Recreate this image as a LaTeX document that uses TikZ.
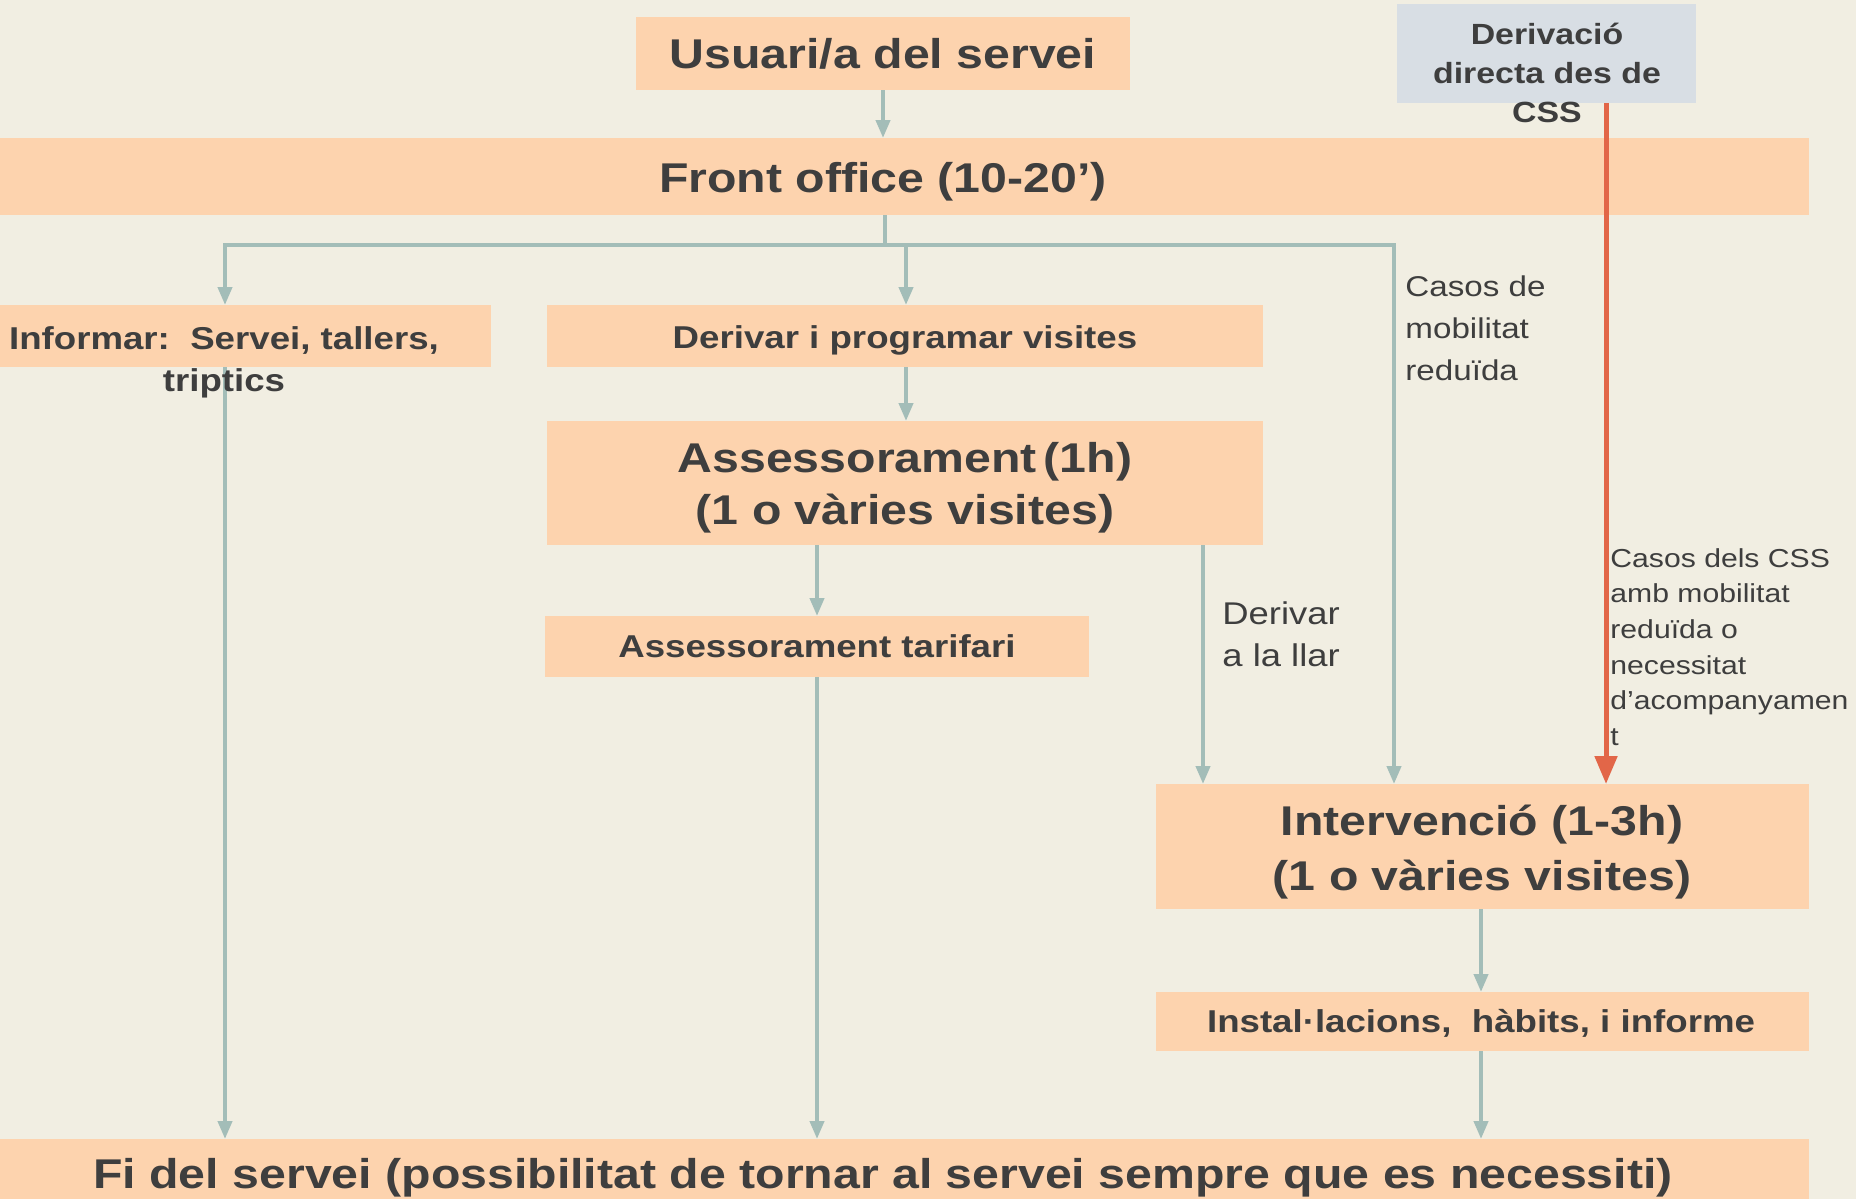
\documentclass[tikz,border=0pt]{standalone}
\usepackage{fontspec}
\setmainfont{Liberation Sans}[FakeStretch=1.16]
\usetikzlibrary{arrows.meta}
\pgfdeclarelayer{bgl}\pgfdeclarelayer{conl}
\pgfsetlayers{bgl,conl,main}
\definecolor{bgc}{RGB}{241,238,226}
\definecolor{boxc}{RGB}{253,211,174}
\definecolor{bluec}{RGB}{216,222,228}
\definecolor{connc}{RGB}{163,189,184}
\definecolor{redc}{RGB}{226,102,72}
\definecolor{txtc}{RGB}{62,62,62}
\begin{document}
\begin{tikzpicture}[x=0.5pt,y=-0.5pt,
  box/.style={fill=boxc,draw=none,inner sep=0pt,outer sep=0pt,text=txtc,align=center},
  txt/.style={text=txtc,inner sep=0pt,align=center},
  bigf/.style={font=\fontsize{20.8}{26}\selectfont\bfseries},
  medf/.style={font=\fontsize{15.8}{21}\selectfont\bfseries},
  conn/.style={draw=connc,line width=2pt,-{Triangle[width=7pt,length=9pt]}},
  plain/.style={draw=connc,line width=2pt},
  redconn/.style={draw=redc,line width=2.5pt,-{Triangle[width=11pt,length=14pt]}}]
\begin{pgfonlayer}{bgl}
\fill[bgc] (0,0) rectangle (1856,1199);
\end{pgfonlayer}
\useasboundingbox (0,0) rectangle (1856,1199);

% boxes
\node[box,bigf,minimum width=247pt,minimum height=36.5pt] (usuari) at (883,53.5) {Usuari/a del servei};
\node[box,minimum width=904.5pt,minimum height=38.5pt] (fobox) at (904.5,176.5) {};
\node[txt,bigf] (fotxt) at (883,182) {Front office (10-20’)};
\node[fill=bluec,inner sep=0pt,outer sep=0pt,minimum width=149.5pt,minimum height=49.5pt] (css) at (1546.5,53.5) {};
\node[txt,font=\fontsize{14.6}{19.5}\selectfont\bfseries] (csstxt) at (1547,73) {Derivació\\directa des de\\CSS};
\node[box,minimum width=245.5pt,minimum height=31pt] (informar) at (245.5,336) {};
\node[txt,medf] (informartxt) at (224,362) {Informar:\ \ Servei, tallers,\\triptics};
\node[box,minimum width=358pt,minimum height=31pt] (derivar) at (905,336) {};
\node[txt,medf] (derivartxt) at (905,340) {Derivar i programar visites};
\node[box,minimum width=358pt,minimum height=62pt] (assess) at (905,483) {};
\node[txt,bigf] (assesstxt) at (905,488) {Assessorament\,(1h)\\(1 o vàries visites)};
\node[box,medf,minimum width=272pt,minimum height=30.5pt] (tarif) at (817,646.5) {Assessorament tarifari};
\node[box,minimum width=326.5pt,minimum height=62.5pt] (interv) at (1482.5,846.5) {};
\node[txt,font=\fontsize{20.8}{27.5}\selectfont\bfseries] (intervtxt) at (1482,852) {Intervenció (1-3h)\\(1 o vàries visites)};
\node[box,minimum width=326.5pt,minimum height=29.5pt] (instal) at (1482.5,1021.5) {};
\node[txt,medf] (instaltxt) at (1481,1023) {Instal·lacions,\ \ hàbits, i informe};
\node[box,minimum width=904.5pt,minimum height=30pt] (fi) at (904.5,1169) {};
\node[txt,bigf] (fitxt) at (883,1178) {Fi del servei (possibilitat de tornar al servei sempre que es necessiti)};

% labels
\node[txt,anchor=west,align=left,font=\fontsize{14.3}{21}\selectfont] (casos) at (1405,328) {Casos de\\mobilitat\\reduïda};
\node[txt,anchor=west,align=left,font=\fontsize{15.7}{21}\selectfont] (llar) at (1222,634) {Derivar\\a la llar};
\node[txt,anchor=west,align=left,font=\fontsize{13}{17.8}\selectfont] (cssl) at (1610,647) {Casos dels CSS\\amb mobilitat\\reduïda o\\necessitat\\d'acompanyamen\\t};

% junction coordinates
\coordinate (jL) at (225,245);
\coordinate (jM) at (885,245);
\coordinate (jD) at (906,245);
\coordinate (jR) at (1394,245);
\coordinate (xT) at (817,0);
\coordinate (xL) at (1203,0);
\coordinate (xI) at (1481,0);
\coordinate (xR) at (1606,0);

\begin{pgfonlayer}{conl}
\draw[conn] (usuari.south) -- (fobox.north -| usuari.south);
\draw[plain] (fobox.south -| jM) -- (jM);
\draw[draw=connc,line width=2pt,{Triangle[width=7pt,length=9pt]}-{Triangle[width=7pt,length=9pt]}]
  (informar.north -| jL) -- (jL) -- (jR) -- (interv.north -| jR);
\draw[conn] (jD) -- (derivar.north -| jD);
\draw[conn] (informar.south -| jL) -- (fi.north -| jL);
\draw[conn] (derivar.south -| jD) -- (assess.north -| jD);
\draw[conn] (assess.south -| xT) -- (tarif.north -| xT);
\draw[conn] (tarif.south -| xT) -- (fi.north -| xT);
\draw[conn] (assess.south -| xL) -- (interv.north -| xL);
\draw[conn] (interv.south -| xI) -- (instal.north -| xI);
\draw[conn] (instal.south -| xI) -- (fi.north -| xI);
\end{pgfonlayer}
\draw[redconn] (css.south -| xR) -- (interv.north -| xR);
\end{tikzpicture}
\end{document}
